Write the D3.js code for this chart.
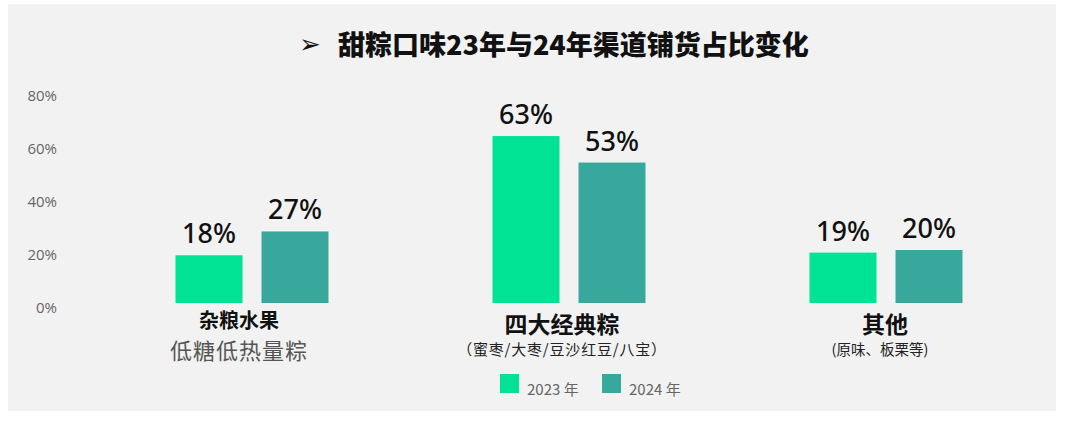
<!DOCTYPE html>
<html>
<head>
<meta charset="utf-8">
<script src="https://cdn.jsdelivr.net/npm/d3@7"></script>
<style>
  body { margin: 0; background: #fff; }
  text { font-family: "Noto Sans CJK SC", "Noto Sans", sans-serif; }
</style>
</head>
<body>
<div id="chart"></div>
<script>
// data
var categories = ["杂粮水果", "四大经典粽", "其他"];
var subLabels = ["低糖低热量粽", "（蜜枣/大枣/豆沙红豆/八宝）", "(原味、板栗等)"];
var years = ["2023 年", "2024 年"];
var values2023 = [0.18, 0.63, 0.19];
var values2024 = [0.27, 0.53, 0.20];
var yTicks = [0, 0.2, 0.4, 0.6, 0.8];
var colors = ["#00e394", "#38a89d"];

var width = 1080, height = 426;

var svg = d3.select("#chart").append("svg")
  .attr("width", width)
  .attr("height", height);

// grey panel
svg.append("rect")
  .attr("x", 8).attr("y", 4)
  .attr("width", 1048).attr("height", 407)
  .attr("fill", "#f2f2f2");

// title
svg.append("text")
  .attr("x", 299).attr("y", 53)
  .style("font-family", "DejaVu Sans")
  .style("font-size", "26px")
  .attr("fill", "#111")
  .text("➢");
svg.append("text")
  .attr("x", 338).attr("y", 55)
  .style("font-size", "27px")
  .style("font-weight", "900")
  .attr("fill", "#111")
  .text("甜粽口味23年与24年渠道铺货占比变化");

var y = d3.scaleLinear().domain([0, 0.8]).range([303, 91]);
var x = d3.scaleBand().domain(categories).range([93.5, 1044.5]);
var xs = d3.scaleBand().domain([0, 1]).range([0, 153]).paddingInner(19 / 86);

var groupW = 153;

// y axis labels
svg.append("g").selectAll("text")
  .data(yTicks)
  .join("text")
  .attr("x", 57)
  .attr("y", function(d) { return y(d) + 9.5; })
  .attr("text-anchor", "end")
  .style("font-family", "Open Sans")
  .style("font-size", "15px")
  .attr("fill", "#666")
  .text(function(d) { return d3.format(".0%")(d); });

var groups = svg.append("g").selectAll("g")
  .data(categories)
  .join("g")
  .attr("transform", function(d) {
    return "translate(" + (x(d) + x.bandwidth() / 2 - groupW / 2) + ",0)";
  });

groups.each(function(cat, i) {
  var g = d3.select(this);
  var vals = [values2023[i], values2024[i]];
  g.selectAll("rect")
    .data(vals)
    .join("rect")
    .attr("x", function(d, j) { return xs(j); })
    .attr("y", function(d) { return y(d); })
    .attr("width", xs.bandwidth())
    .attr("height", function(d) { return y(0) - y(d); })
    .attr("fill", function(d, j) { return colors[j]; });
  g.selectAll("text.val")
    .data(vals)
    .join("text")
    .attr("class", "val")
    .attr("x", function(d, j) { return xs(j) + xs.bandwidth() / 2; })
    .attr("y", function(d) { return y(d) - 12; })
    .attr("text-anchor", "middle")
    .style("font-family", "Noto Sans")
    .style("font-size", "27px")
    .style("font-weight", "500")
    .attr("fill", "#111")
    .text(function(d) { return d3.format(".0%")(d); });
});

// category labels (reference centres them a little left of the bar pair)
var labelShift = [-13, -7, -1];
var cx = function(d, i) { return x(d) + x.bandwidth() / 2 + labelShift[i]; };
svg.append("g").selectAll("text")
  .data(categories)
  .join("text")
  .attr("x", cx)
  .attr("y", function(d, i) { return i == 0 ? 328 : 333; })
  .attr("text-anchor", "middle")
  .style("font-size", function(d, i) { return i == 0 ? "20px" : "23px"; })
  .style("font-weight", "bold")
  .attr("fill", "#111")
  .text(function(d) { return d; });

svg.append("g").selectAll("text")
  .data(subLabels)
  .join("text")
  .attr("x", function(d, i) { return cx(categories[i], i) + (i == 2 ? -5 : 0); })
  .attr("y", function(d, i) { return i == 0 ? 359 : 355; })
  .attr("text-anchor", "middle")
  .style("font-size", function(d, i) { return i == 0 ? "22px" : (i == 1 ? "15px" : "14.5px"); })
  .style("letter-spacing", function(d, i) { return i == 1 ? "0.8px" : (i == 0 ? "1px" : "0px"); })
  .attr("fill", function(d, i) { return i == 0 ? "#555" : "#222"; })
  .text(function(d) { return d; });

// legend
var legend = svg.append("g").selectAll("g")
  .data(years)
  .join("g")
  .attr("transform", function(d, i) { return "translate(" + (500 + i * 102) + ",374)"; });
legend.append("rect")
  .attr("width", 19).attr("height", 19)
  .attr("fill", function(d, i) { return colors[i]; });
legend.append("text")
  .attr("x", 27).attr("y", 21)
  .style("font-size", "15px")
  .attr("fill", "#666")
  .text(function(d) { return d; });
</script>
</body>
</html>
